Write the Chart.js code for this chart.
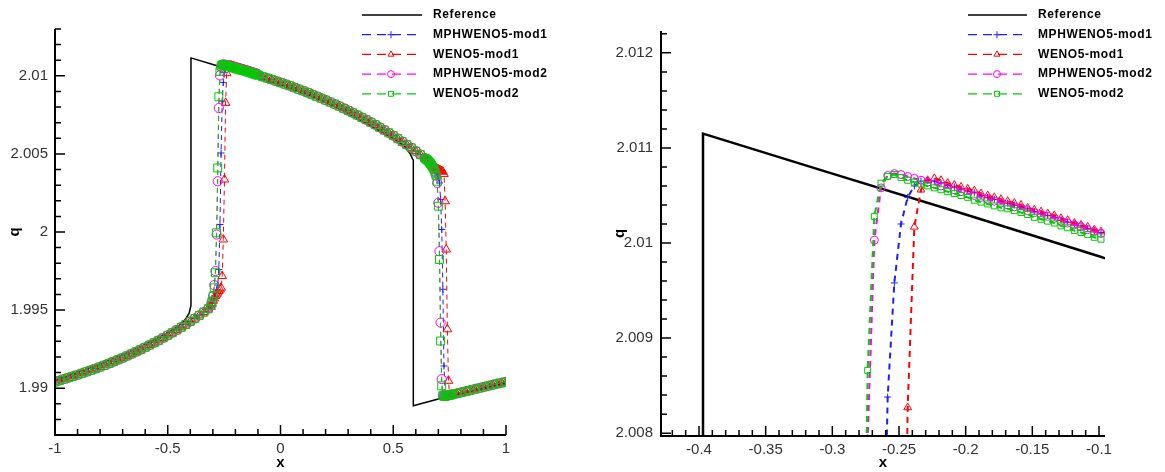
<!DOCTYPE html>
<html>
<head>
<meta charset="utf-8">
<script src="https://cdn.jsdelivr.net/npm/chart.js@4.4.1/dist/chart.umd.min.js"></script>
<style>
  html, body { margin: 0; padding: 0; background: #fff; }
  #left { position: absolute; left: 0; top: 0; width: 580px; height: 472px; }
  #right { position: absolute; left: 580px; top: 0; width: 585px; height: 472px; }
</style>
</head>
<body>
<div id="left"><canvas id="chartLeft"></canvas></div>
<div id="right"><canvas id="chartRight"></canvas></div>
<script>
// --- DATA ---

// exact solution
const refX = [-1, -0.9, -0.8, -0.7, -0.6, -0.5, -0.45, -0.42, -0.405, -0.397, -0.397, -0.3, -0.2, -0.1, 0, 0.1, 0.2, 0.3, 0.4, 0.5, 0.55, 0.575, 0.585, 0.589, 0.589, 0.7, 0.8, 0.9, 1];
const refQ = [1.9905, 1.9910, 1.99155, 1.99215, 1.9928, 1.99355, 1.9940, 1.99445, 1.9948, 1.9953, 2.01115, 2.01073, 2.0103, 2.00986, 2.0094, 2.0089, 2.0083, 2.0076, 2.0068, 2.0060, 2.0055, 2.0050, 2.0047, 2.0046, 1.98887, 1.9893, 1.98965, 1.9900, 1.99035];

// smooth part left of the first shock (all schemes)
const xPre = [-1, -0.98, -0.96, -0.94, -0.92, -0.9, -0.88, -0.86, -0.84, -0.82, -0.8, -0.78, -0.76, -0.74, -0.72, -0.7, -0.68, -0.66, -0.64, -0.62, -0.6, -0.58, -0.56, -0.54, -0.52, -0.5, -0.48, -0.46, -0.44, -0.42, -0.4, -0.38, -0.36, -0.34, -0.32];
const qPre = [1.9904, 1.99049, 1.99058, 1.99067, 1.99076, 1.99085, 1.99095, 1.99105, 1.99115, 1.99125, 1.99136, 1.99147, 1.99158, 1.9917, 1.99182, 1.99194, 1.99207, 1.9922, 1.99233, 1.99247, 1.99261, 1.99276, 1.99291, 1.99306, 1.99322, 1.99338, 1.99355, 1.99372, 1.9939, 1.99408, 1.99427, 1.99446, 1.99466, 1.99487, 1.99509];

// first shock, fine grid (also the zoomed panel)
const xShock1 = [-0.3085, -0.3035, -0.2985, -0.2935, -0.2885, -0.2835, -0.2785, -0.2735, -0.2685, -0.2635, -0.2585, -0.2535, -0.2485, -0.2435, -0.2385, -0.2335, -0.2285, -0.2235, -0.2185, -0.2135, -0.2085, -0.2035, -0.1985, -0.1935, -0.1885, -0.1835, -0.1785, -0.1735, -0.1685, -0.1635, -0.1585, -0.1535, -0.1485, -0.1435, -0.1385, -0.1335, -0.1285, -0.1235, -0.1185, -0.1135, -0.1085, -0.1035, -0.0985];
const qShock1Mph1 = [1.9952, 1.99545, 1.9957, 1.9959, 1.9961, 1.9963, 1.9966, 1.9976, 2.00048, 2.00506, 2.00838, 2.00958, 2.0102, 2.01048, 2.0106, 2.01065, 2.01066, 2.01065, 2.01063, 2.01061, 2.01059, 2.01057, 2.01055, 2.01053, 2.0105, 2.01048, 2.01046, 2.01044, 2.01042, 2.0104, 2.01038, 2.01036, 2.01033, 2.01031, 2.01029, 2.01027, 2.01024, 2.01022, 2.0102, 2.01018, 2.01015, 2.01013, 2.01011];
const qShock1Weno1 = [1.9952, 1.9954, 1.9956, 1.99575, 1.9959, 1.996, 1.99612, 1.99622, 1.99632, 1.99643, 1.99718, 1.99952, 2.00336, 2.00827, 2.01017, 2.01056, 2.01066, 2.01068, 2.01066, 2.01063, 2.01061, 2.01059, 2.01057, 2.01055, 2.01052, 2.0105, 2.01048, 2.01046, 2.01044, 2.01042, 2.0104, 2.01037, 2.01035, 2.01033, 2.01031, 2.01029, 2.01026, 2.01024, 2.01021, 2.01019, 2.01017, 2.01014, 2.01012];
const qShock1Mph2 = [1.9953, 1.99555, 1.9959, 1.9966, 1.9975, 1.99984, 2.00325, 2.00794, 2.01003, 2.01058, 2.01071, 2.01073, 2.01072, 2.0107, 2.01068, 2.01066, 2.01064, 2.01062, 2.0106, 2.01058, 2.01056, 2.01054, 2.01052, 2.0105, 2.01048, 2.01046, 2.01044, 2.01042, 2.0104, 2.01038, 2.01036, 2.01034, 2.01032, 2.0103, 2.01028, 2.01026, 2.01023, 2.01021, 2.01019, 2.01017, 2.01014, 2.01012, 2.0101];
const qShock1Weno2 = [1.9953, 1.99555, 1.9959, 1.99643, 1.99739, 1.99995, 2.0041, 2.00866, 2.01028, 2.01063, 2.0107, 2.01072, 2.01069, 2.01066, 2.01064, 2.01062, 2.0106, 2.01058, 2.01056, 2.01054, 2.01052, 2.0105, 2.01048, 2.01045, 2.01043, 2.01041, 2.01039, 2.01037, 2.01036, 2.01034, 2.01032, 2.0103, 2.01027, 2.01025, 2.01023, 2.01021, 2.01018, 2.01016, 2.01013, 2.01011, 2.01009, 2.01006, 2.01004];

// smooth part between the shocks (all schemes)
const xMid = [-0.08, -0.06, -0.04, -0.02, 0, 0.02, 0.04, 0.06, 0.08, 0.1, 0.12, 0.14, 0.16, 0.18, 0.2, 0.22, 0.24, 0.26, 0.28, 0.3, 0.32, 0.34, 0.36, 0.38, 0.4, 0.42, 0.44, 0.46, 0.48, 0.5, 0.52, 0.54, 0.56, 0.58, 0.6, 0.62, 0.64];
const qMid = [2.00995, 2.00986, 2.00977, 2.00967, 2.00957, 2.00947, 2.00937, 2.00926, 2.00915, 2.00904, 2.00893, 2.00881, 2.00869, 2.00857, 2.00845, 2.00832, 2.00819, 2.00806, 2.00792, 2.00778, 2.00764, 2.00749, 2.00734, 2.00719, 2.00703, 2.00687, 2.0067, 2.00653, 2.00635, 2.00617, 2.00598, 2.00579, 2.00559, 2.00539, 2.00518, 2.00496, 2.00473];

// second shock, fine grid
const xShock2 = [0.645, 0.65, 0.655, 0.66, 0.665, 0.67, 0.675, 0.68, 0.685, 0.69, 0.695, 0.7, 0.705, 0.71, 0.715, 0.72, 0.725, 0.73, 0.735, 0.74, 0.745, 0.75, 0.755, 0.76];
const qShock2Mph1 = [2.00468, 2.00462, 2.00456, 2.00449, 2.00441, 2.00432, 2.00422, 2.00411, 2.00398, 2.00383, 2.00365, 2.00345, 2.00314, 2.00208, 2.00016, 1.99633, 1.99142, 1.9896, 1.98952, 1.98953, 1.98954, 1.98956, 1.98957, 1.98959];
const qShock2Weno1 = [2.0047, 2.00465, 2.00459, 2.00453, 2.00446, 2.00438, 2.00431, 2.00424, 2.00417, 2.00411, 2.00405, 2.004, 2.00396, 2.00393, 2.0039, 2.00386, 2.00372, 2.00197, 1.99888, 1.99377, 1.99047, 1.98955, 1.98957, 1.98959];
const qShock2Mph2 = [2.00468, 2.00462, 2.00455, 2.00447, 2.00438, 2.00428, 2.00416, 2.00402, 2.00385, 2.00362, 2.00314, 2.00187, 1.99877, 1.9942, 1.99058, 1.98955, 1.98949, 1.9895, 1.98951, 1.98953, 1.98954, 1.98956, 1.98957, 1.98959];
const qShock2Weno2 = [2.00468, 2.00462, 2.00455, 2.00447, 2.00438, 2.00428, 2.00416, 2.00402, 2.00385, 2.00362, 2.00325, 2.00165, 1.99824, 1.99302, 1.99015, 1.98952, 1.98948, 1.9895, 1.98951, 1.98953, 1.98954, 1.98956, 1.98957, 1.98959];

// smooth part right of the second shock (all schemes)
const xPost = [0.78, 0.8, 0.82, 0.84, 0.86, 0.88, 0.9, 0.92, 0.94, 0.96, 0.98, 1];
const qPost = [1.98965, 1.98972, 1.98979, 1.98986, 1.98993, 1.99, 1.99007, 1.99014, 1.99021, 1.99028, 1.99034, 1.9904];

const seriesNames = ['Reference', 'MPHWENO5-mod1', 'WENO5-mod1', 'MPHWENO5-mod2', 'WENO5-mod2'];

const xTicksLeft = [-1, -0.5, 0, 0.5, 1];
const yTicksLeft = [1.99, 1.995, 2, 2.005, 2.01];
const xTicksRight = [-0.4, -0.35, -0.3, -0.25, -0.2, -0.15, -0.1];
const yTicksRight = [2.008, 2.009, 2.01, 2.011, 2.012];

// --- HELPERS ---
function toPoints(xs, ys) {
  return xs.map((x, i) => ({ x: x, y: ys[i] }));
}

function fmt(v) {
  return String(parseFloat(v.toFixed(5)));
}

const styles = [
  { color: '#000000', style: false, order: 4 },
  { color: '#2020ff', style: 'cross', order: 3 },
  { color: '#ff0000', style: 'triangle', order: 2 },
  { color: '#ff00ff', style: 'circle', order: 1 },
  { color: '#00cc00', style: 'rect', order: 0 }
];

// draws Tecplot-like axes: thick left/bottom lines, inward major and minor ticks
const tecplotAxes = {
  id: 'tecplotAxes',
  afterDatasetsDraw(chart, args, opts) {
    const { ctx, chartArea: a } = chart;
    const xs = chart.scales.x, ys = chart.scales.y;
    ctx.save();
    ctx.strokeStyle = '#000';
    ctx.lineWidth = 2;
    ctx.beginPath();
    ctx.moveTo(a.left, a.top);
    ctx.lineTo(a.left, a.bottom);
    ctx.lineTo(a.right, a.bottom);
    ctx.stroke();

    ctx.lineWidth = 1.5;
    ctx.beginPath();
    xs.ticks.forEach(t => {
      const p = xs.getPixelForValue(t.value);
      ctx.moveTo(p, a.bottom);
      ctx.lineTo(p, a.bottom - 10);
    });
    ys.ticks.forEach(t => {
      const p = ys.getPixelForValue(t.value);
      ctx.moveTo(a.left, p);
      ctx.lineTo(a.left + 10, p);
    });
    for (let i = Math.ceil(xs.min / opts.minorX - 1e-6); i * opts.minorX <= xs.max + 1e-9; i++) {
      const p = xs.getPixelForValue(i * opts.minorX);
      ctx.moveTo(p, a.bottom);
      ctx.lineTo(p, a.bottom - 6);
    }
    for (let i = Math.ceil(ys.min / opts.minorY - 1e-6); i * opts.minorY <= ys.max + 1e-9; i++) {
      const p = ys.getPixelForValue(i * opts.minorY);
      ctx.moveTo(a.left, p);
      ctx.lineTo(a.left + 6, p);
    }
    ctx.stroke();
    ctx.restore();
  }
};

// legend in the top right corner, line sample with the symbol in the middle
const tecplotLegend = {
  id: 'tecplotLegend',
  afterDraw(chart, args, opts) {
    const ctx = chart.ctx;
    ctx.save();
    chart.data.datasets.forEach((ds, i) => {
      const y = opts.y0 + i * opts.dy;
      ctx.strokeStyle = ds.borderColor;
      ctx.lineWidth = 1.3;
      ctx.setLineDash(ds.borderDash && ds.borderDash.length ? [9, 6] : []);
      ctx.beginPath();
      ctx.moveTo(opts.x0, y);
      ctx.lineTo(opts.x1, y);
      ctx.stroke();
      ctx.setLineDash([]);
      if (ds.pointStyle) {
        ctx.fillStyle = 'rgba(0,0,0,0)';
        ctx.lineWidth = 1;
        Chart.helpers.drawPoint(ctx, { pointStyle: ds.pointStyle, radius: 3.5, borderWidth: 1, rotation: 0 }, opts.x0 + 29, y);
      }
      ctx.fillStyle = '#000';
      ctx.font = 'bold 12px "Liberation Sans", Arial, sans-serif';
      ctx.letterSpacing = '0.6px';
      ctx.textBaseline = 'middle';
      ctx.textAlign = 'left';
      ctx.fillText(ds.label, opts.textX, y);
    });
    ctx.restore();
  }
};

function buildDatasets(seriesX, seriesQ, lineW, dash, radii) {
  return seriesNames.map((name, i) => ({
    label: name,
    data: toPoints(seriesX[i], seriesQ[i]),
    showLine: true,
    borderColor: styles[i].color,
    borderWidth: i === 0 ? lineW + 0.5 : lineW,
    borderDash: i === 0 ? [] : dash,
    pointStyle: styles[i].style,
    pointRadius: i === 0 ? 0 : radii[i],
    pointBorderColor: styles[i].color,
    pointBackgroundColor: 'rgba(0,0,0,0)',
    pointBorderWidth: 1,
    order: styles[i].order
  }));
}

function makeOptions(cfg) {
  const tickFont = { family: '"Liberation Sans", Arial, sans-serif', size: 15 };
  const titleFont = { family: '"Liberation Sans", Arial, sans-serif', size: 15, weight: 'bold' };
  return {
    animation: false,
    responsive: true,
    maintainAspectRatio: false,
    layout: { padding: cfg.padding },
    plugins: {
      legend: { display: false },
      tooltip: { enabled: false },
      tecplotAxes: { minorX: cfg.minorX, minorY: cfg.minorY },
      tecplotLegend: cfg.legend
    },
    scales: {
      x: {
        type: 'linear',
        min: cfg.xMin,
        max: cfg.xMax,
        grid: { display: false, drawTicks: false },
        border: { display: false },
        afterBuildTicks: s => { s.ticks = cfg.xTicks.map(v => ({ value: v })); },
        afterFit: s => { s.height = cfg.xHeight; },
        ticks: { color: '#333', font: tickFont, padding: 5, maxRotation: 0, autoSkip: false, callback: v => fmt(v) },
        title: { display: true, text: 'x', color: '#000', font: titleFont, padding: { top: 0, bottom: 0 } }
      },
      y: {
        type: 'linear',
        min: cfg.yMin,
        max: cfg.yMax,
        grid: { display: false, drawTicks: false },
        border: { display: false },
        afterBuildTicks: s => { s.ticks = cfg.yTicks.map(v => ({ value: v })); },
        afterFit: s => { s.width = cfg.yWidth; },
        ticks: { color: '#333', font: tickFont, padding: cfg.yPad, autoSkip: false, callback: v => fmt(v) },
        title: { display: true, text: 'q', color: '#000', font: titleFont, padding: { top: cfg.qOffset, bottom: 0 } }
      }
    }
  };
}

// --- LEFT PANEL: full domain ---
const fullX = xPre.concat(xShock1, xMid, xShock2, xPost);
const leftX = [refX, fullX, fullX, fullX, fullX];
const leftQ = [
  refQ,
  qPre.concat(qShock1Mph1, qMid, qShock2Mph1, qPost),
  qPre.concat(qShock1Weno1, qMid, qShock2Weno1, qPost),
  qPre.concat(qShock1Mph2, qMid, qShock2Mph2, qPost),
  qPre.concat(qShock1Weno2, qMid, qShock2Weno2, qPost)
];

new Chart(document.getElementById('chartLeft'), {
  type: 'scatter',
  data: { datasets: buildDatasets(leftX, leftQ, 1, [5, 4], [0, 3.5, 5, 4.6, 5.6]) },
  options: makeOptions({
    padding: { left: 0, top: 29, right: 74, bottom: 0 },
    xMin: -1, xMax: 1, yMin: 1.987, yMax: 2.013,
    xTicks: xTicksLeft, yTicks: yTicksLeft,
    minorX: 0.1, minorY: 0.001,
    xHeight: 37, yWidth: 55, yPad: 7, qOffset: 6,
    legend: { x0: 362, x1: 422, textX: 433, y0: 15, dy: 19.7 }
  }),
  plugins: [tecplotAxes, tecplotLegend]
});

// --- RIGHT PANEL: zoom on the first shock ---
const rightX = [refX, xShock1, xShock1, xShock1, xShock1];
const rightQ = [refQ, qShock1Mph1, qShock1Weno1, qShock1Mph2, qShock1Weno2];

new Chart(document.getElementById('chartRight'), {
  type: 'scatter',
  data: { datasets: buildDatasets(rightX, rightQ, 2, [6, 5], [0, 3.5, 4.5, 4, 4.2]) },
  options: makeOptions({
    padding: { left: 0, top: 31, right: 60, bottom: 0 },
    xMin: -0.4285, xMax: -0.0955, yMin: 2.00797, yMax: 2.01223,
    xTicks: xTicksRight, yTicks: yTicksRight,
    minorX: 0.01, minorY: 0.0002,
    xHeight: 36, yWidth: 81, yPad: 8, qOffset: 31,
    legend: { x0: 388, x1: 447, textX: 458, y0: 15, dy: 19.7 }
  }),
  plugins: [tecplotAxes, tecplotLegend]
});
</script>
</body>
</html>
